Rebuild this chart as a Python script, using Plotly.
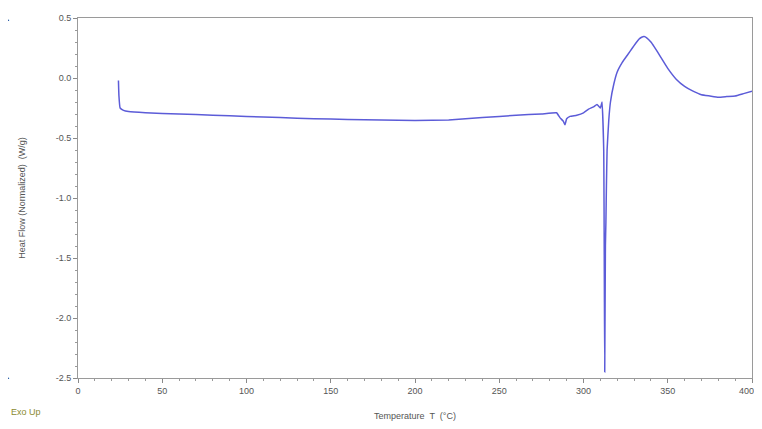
import plotly.graph_objects as go

temperature = [24.0, 24.3, 25, 27, 30, 40, 60, 80, 100, 120, 140, 160, 180, 200, 220, 240, 260, 275,
               284, 286, 288, 289, 290, 292, 296, 300, 303, 306, 308, 310, 311, 312, 312.6, 313.0,
               313.3, 313.6, 314, 315, 316, 318, 320, 323, 326, 329, 331, 333, 334.5, 336, 337.5,
               340, 342, 346, 350, 355, 360, 365, 370, 375, 380, 385, 390, 395, 400]
heat_flow = [-0.02, -0.15, -0.25, -0.27, -0.28, -0.29, -0.30, -0.31, -0.32, -0.33, -0.34, -0.345,
             -0.35, -0.355, -0.35, -0.33, -0.31, -0.30, -0.29, -0.33, -0.36, -0.39, -0.34, -0.32,
             -0.31, -0.29, -0.26, -0.24, -0.22, -0.25, -0.20, -0.6, -2.45, -1.4, -1.2, -0.9, -0.6,
             -0.35, -0.2, -0.05, 0.05, 0.13, 0.19, 0.25, 0.29, 0.325, 0.34, 0.345, 0.335,
             0.30, 0.26, 0.17, 0.08, -0.01, -0.07, -0.11, -0.14, -0.15, -0.16, -0.155, -0.15, -0.13, -0.11]

x_ticks = [0, 50, 100, 150, 200, 250, 300, 350, 400]
y_ticks = [0.5, 0.0, -0.5, -1.0, -1.5, -2.0, -2.5]
y_tick_labels = ["0.5", "0.0", "-0.5", "-1.0", "-1.5", "-2.0", "-2.5"]

fig = go.Figure()
fig.add_trace(go.Scatter(x=temperature, y=heat_flow, mode="lines",
                         line=dict(color="#5c5cd8", width=1.5, shape="spline", smoothing=0.3),
                         showlegend=False))

axis_common = dict(showline=True, linecolor="#9a9a9a", linewidth=1, mirror=True,
                   ticks="outside", ticklen=4, tickcolor="#8a8a8a", showgrid=False, zeroline=False,
                   automargin=False,
                   tickfont=dict(size=9, color="#555555", family="Liberation Sans"))

# the last x label sits at the right edge, so it is drawn as an annotation anchored to x=400
x_tick_text = [str(v) for v in x_ticks[:-1]] + [""]

# page body adds an 8px offset; size and margins compensate so the plot area sits at x 78-752, y 18-378
fig.update_layout(
    width=754, height=413,
    margin=dict(l=70, r=10, t=10, b=43),
    paper_bgcolor="white", plot_bgcolor="white",
    font=dict(family="Liberation Sans", color="#555555"),
    xaxis=dict(range=[0, 400], tickvals=x_ticks, ticktext=x_tick_text,
               minor=dict(dtick=10, ticks="outside", ticklen=2, tickcolor="#9a9a9a"),
               title=dict(text="Temperature  T  (°C)", font=dict(size=9, color="#555555"), standoff=18),
               **axis_common),
    yaxis=dict(range=[-2.5, 0.5], tickvals=y_ticks, ticktext=y_tick_labels,
               minor=dict(dtick=0.1, ticks="outside", ticklen=2, tickcolor="#9a9a9a"),
               title=dict(text="Heat Flow (Normalized)  (W/g)", font=dict(size=9, color="#555555"), standoff=28),
               **axis_common),
)

fig.add_annotation(text=str(x_ticks[-1]), x=x_ticks[-1], xref="x", yref="paper", y=0, yshift=-6,
                   xanchor="right", xshift=4, yanchor="top", showarrow=False,
                   font=dict(size=9, color="#555555", family="Liberation Sans"))
fig.add_annotation(text="Exo Up", xref="paper", yref="paper", x=-0.103, y=-0.094,
                   xanchor="left", yanchor="middle", showarrow=False,
                   font=dict(size=9, color="#8a8a30", family="Liberation Sans"))
for yy in [0.995, 0.0]:
    fig.add_annotation(text="•", xref="paper", yref="paper", x=-0.104, y=yy,
                       xanchor="center", yanchor="middle", showarrow=False,
                       font=dict(size=6, color="#222222"))

fig.write_html("out.html")
